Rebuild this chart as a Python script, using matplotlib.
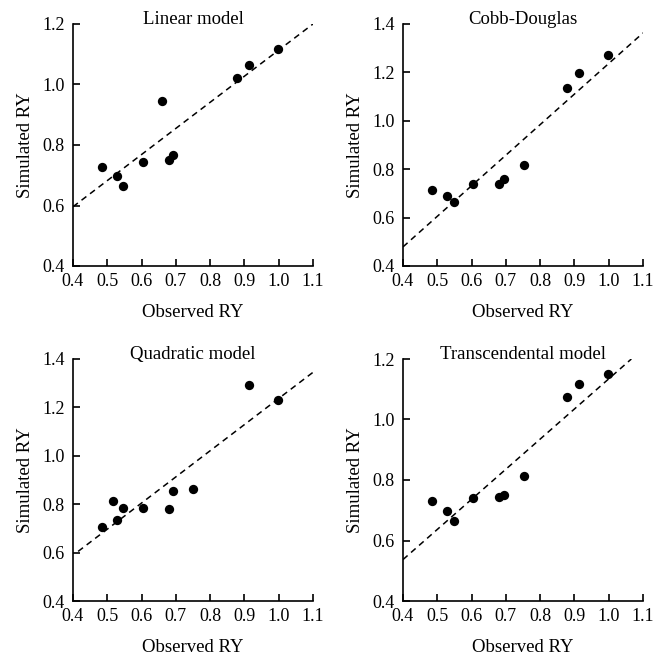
import matplotlib
matplotlib.use("Agg")
import matplotlib.pyplot as plt
import numpy as np

plt.rcParams['font.family'] = ['Liberation Serif', 'DejaVu Serif']

titles = ["Linear model", "Cobb-Douglas", "Quadratic model", "Transcendental model"]

lin_obs = [0.485, 0.527, 0.547, 0.604, 0.660, 0.680, 0.693, 0.879, 0.914, 0.998]
lin_sim = [0.728, 0.697, 0.666, 0.745, 0.944, 0.749, 0.766, 1.020, 1.063, 1.118]

cd_obs = [0.486, 0.528, 0.549, 0.604, 0.680, 0.694, 0.752, 0.878, 0.913, 0.998]
cd_sim = [0.716, 0.689, 0.664, 0.737, 0.740, 0.758, 0.818, 1.136, 1.198, 1.273]

quad_obs = [0.485, 0.517, 0.527, 0.547, 0.604, 0.680, 0.693, 0.751, 0.914, 0.998]
quad_sim = [0.707, 0.813, 0.733, 0.783, 0.783, 0.781, 0.854, 0.863, 1.294, 1.229]

tr_obs = [0.486, 0.528, 0.549, 0.604, 0.680, 0.694, 0.752, 0.878, 0.913, 0.998]
tr_sim = [0.731, 0.696, 0.664, 0.741, 0.745, 0.752, 0.812, 1.076, 1.117, 1.150]

# fitted dashed lines: (x_start, y_start, x_end, y_end)
fit_lines = [
    (0.40, 0.596, 1.10, 1.200),
    (0.40, 0.479, 1.10, 1.363),
    (0.415, 0.605, 1.10, 1.345),
    (0.40, 0.537, 1.066, 1.200),
]

obs_sets = [lin_obs, cd_obs, quad_obs, tr_obs]
sim_sets = [lin_sim, cd_sim, quad_sim, tr_sim]
ylims = [(0.4, 1.2), (0.4, 1.4), (0.4, 1.4), (0.4, 1.2)]
x_ticks = [0.4, 0.5, 0.6, 0.7, 0.8, 0.9, 1.0, 1.1]

W, H = 656, 655
fig = plt.figure(figsize=(W / 100, H / 100), dpi=100)

# axes boxes in pixels: left, top, right, bottom
boxes = [
    (73, 24, 313, 266),
    (403, 24, 643, 266),
    (73, 359, 313, 601),
    (403, 359, 643, 601),
]

for i in range(4):
    l, t, r, b = boxes[i]
    ax = fig.add_axes([l / W, 1 - b / H, (r - l) / W, (b - t) / H])
    ax.scatter(obs_sets[i], sim_sets[i], s=45, color='black', zorder=3, linewidths=0)
    x0, y0, x1, y1 = fit_lines[i]
    ax.plot([x0, x1], [y0, y1], linestyle=(0, (4, 3)), color='black', linewidth=1.1)
    ax.set_xlim(0.4, 1.1)
    ax.set_ylim(*ylims[i])
    ax.set_xticks(x_ticks)
    ax.set_xticklabels([f"{v:.1f}" for v in x_ticks])
    lo, hi = ylims[i]
    yt = np.round(np.arange(lo, hi + 0.001, 0.2), 1)
    ax.set_yticks(yt)
    ax.set_yticklabels([f"{v:.1f}" for v in yt])
    ax.spines['top'].set_visible(False)
    ax.spines['right'].set_visible(False)
    for s in ['left', 'bottom']:
        ax.spines[s].set_linewidth(1.2)
    ax.tick_params(direction='in', length=5, width=1.2, labelsize=13)
    ax.tick_params(axis='x', pad=5)
    ax.tick_params(axis='y', pad=6)
    ax.set_title(titles[i], fontsize=13.5, pad=0, y=1.0)
    ax.set_xlabel("Observed RY", fontsize=13.5, labelpad=10)
    ax.set_ylabel("Simulated RY", fontsize=13.5, labelpad=6)
    ax.patch.set_alpha(0)

fig.savefig("out.png", dpi=100)
